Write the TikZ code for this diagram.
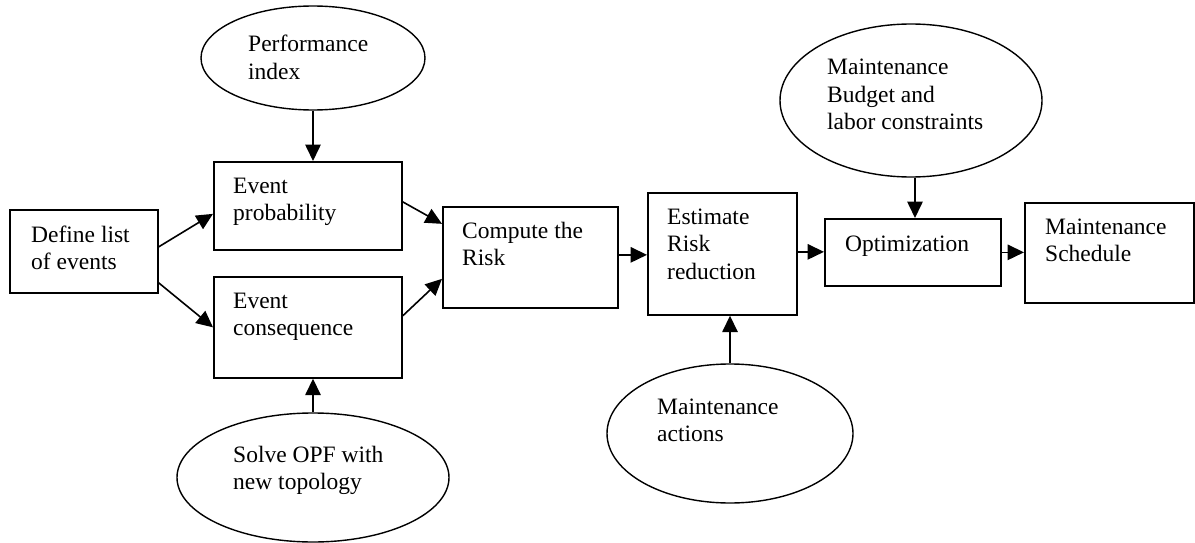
\documentclass[tikz,border=0pt]{standalone}
\usepackage{fontspec}
\setmainfont{Liberation Serif}
\usetikzlibrary{shapes.geometric,arrows.meta,calc}
\newcommand\txtlines[1]{\begin{tabular}[t]{@{}l@{}}#1\end{tabular}}
\begin{document}
\begin{tikzpicture}[x=1pt,y=-1pt,
  stepbox/.style={draw, line width=1.7pt, rectangle, inner sep=0pt, anchor=north west},
  oval/.style={draw, line width=1.4pt, ellipse, inner sep=0pt},
  lbl/.style={inner sep=0pt, anchor=base west, font=\fontsize{23.5}{27.5}\selectfont},
  flow/.style={line width=1.6pt, -{Triangle[length=16.5pt,width=15.5pt]}}]
\useasboundingbox (0,0) rectangle (1195,543);

% process boxes
\node[stepbox, minimum width=148pt, minimum height=83pt]  (def)   at (9,209)    {};
\node[stepbox, minimum width=188pt, minimum height=88pt]  (prob)  at (213,161)  {};
\node[stepbox, minimum width=188pt, minimum height=101pt] (cons)  at (213,276)  {};
\node[stepbox, minimum width=175pt, minimum height=101pt] (risk)  at (442,206)  {};
\node[stepbox, minimum width=149pt, minimum height=122pt] (est)   at (647,192)  {};
\node[stepbox, minimum width=176pt, minimum height=67pt]  (opt)   at (824,218)  {};
\node[stepbox, minimum width=169pt, minimum height=100pt] (sched) at (1024,202) {};

\node[lbl] (def-t)   at ($(def.north west)+(22,33)$)   {\txtlines{Define list\\of events}};
\node[lbl] (prob-t)  at ($(prob.north west)+(20,32)$)  {\txtlines{Event\\probability}};
\node[lbl] (cons-t)  at ($(cons.north west)+(20,32)$)  {\txtlines{Event\\consequence}};
\node[lbl] (risk-t)  at ($(risk.north west)+(20,32)$)  {\txtlines{Compute the\\Risk}};
\node[lbl] (est-t)   at ($(est.north west)+(20,32)$)   {\txtlines{Estimate\\Risk\\reduction}};
\node[lbl] (opt-t)   at ($(opt.north west)+(21,33)$)   {Optimization};
\node[lbl] (sched-t) at ($(sched.north west)+(21,32)$) {\txtlines{Maintenance\\Schedule}};

% input ellipses
\node[oval, minimum width=224pt, minimum height=104pt] (perf)   at (313,58)    {};
\node[oval, minimum width=262pt, minimum height=153pt] (budget) at (911,100.5) {};
\node[oval, minimum width=272pt, minimum height=129pt] (opf)    at (313,477.5) {};
\node[oval, minimum width=246pt, minimum height=139pt] (act)    at (730,433.5) {};

\node[lbl] (perf-t)   at ($(perf.center)+(-65,-6)$)     {\txtlines{Performance\\index}};
\node[lbl] (budget-t) at ($(budget.center)+(-84,-25.5)$) {\txtlines{Maintenance\\Budget and\\labor constraints}};
\node[lbl] (opf-t)    at ($(opf.center)+(-80,-15.5)$)   {\txtlines{Solve OPF with\\new topology}};
\node[lbl] (act-t)    at ($(act.center)+(-73,-19.5)$)   {\txtlines{Maintenance\\actions}};

% connectors
\draw[flow] ([yshift=4.5pt]def.east)   -- ([yshift=-8pt]prob.west);
\draw[flow] ([yshift=-31.5pt]def.east) -- (cons.west);
\draw[flow] ([yshift=4pt]prob.east)    -- ([yshift=33.5pt]risk.west);
\draw[flow] ([yshift=11.5pt]cons.east) -- ([yshift=-21.5pt]risk.west);
\draw[flow] ([yshift=2.5pt]risk.east)  -- ([yshift=2.5pt]risk.east -| est.west);
\draw[flow] ([yshift=2pt]est.east)     -- ([yshift=2pt]est.east -| opt.west);
\draw[flow] (opt.east) -- (opt.east -| sched.west);
\draw[flow] (perf.south) -- (perf.south |- prob.north);
\draw[flow] ([xshift=4pt]budget.south) -- ([xshift=4pt]budget.south |- opt.north);
\draw[flow] (opf.north) -- (opf.north |- cons.south);
\draw[flow] (act.north) -- (act.north |- est.south);
\end{tikzpicture}
\end{document}
